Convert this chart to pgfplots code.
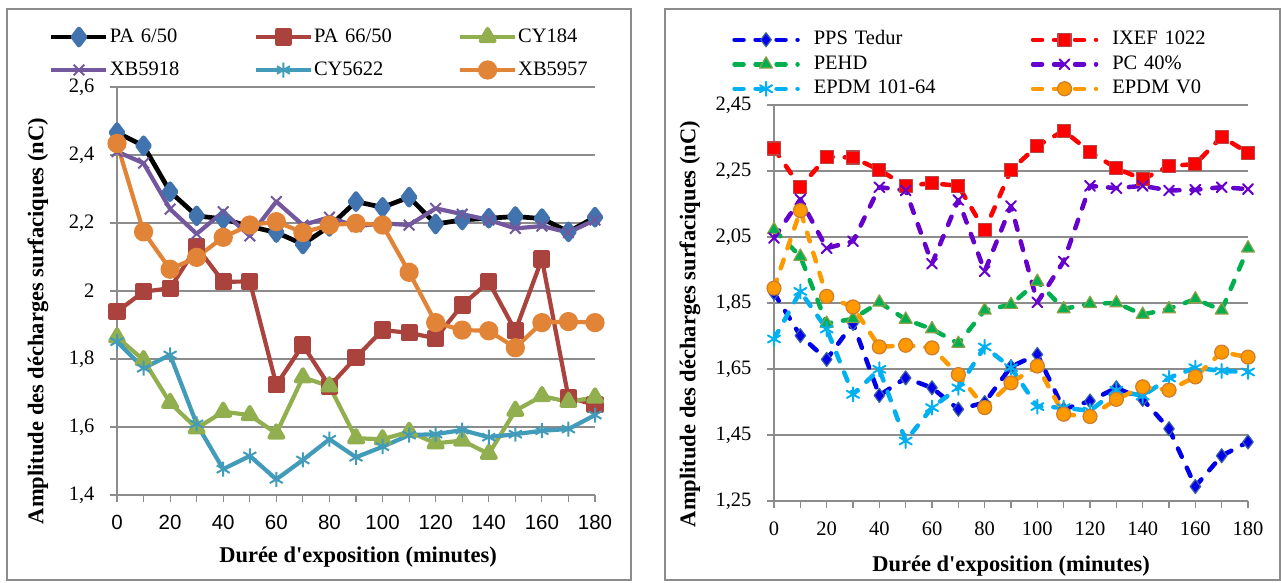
\documentclass[border=0pt]{standalone}
\usepackage{fontspec}
\setmainfont{Liberation Serif}[Ligatures=TeXOff]
\setsansfont{Liberation Sans}
\usepackage{pgfplots}
\usepackage{pgfplotstable}
\pgfplotsset{compat=1.18}

\definecolor{gridgray}{RGB}{140,140,140}
\definecolor{framegray}{RGB}{140,140,140}
\definecolor{diablue}{RGB}{65,115,175}
\definecolor{pared}{RGB}{170,66,62}
\definecolor{cygreen}{RGB}{145,175,78}
\definecolor{xbpurple}{RGB}{115,88,158}
\definecolor{cyteal}{RGB}{65,155,185}
\definecolor{xborange}{RGB}{226,132,55}

\definecolor{ppsblue}{RGB}{0,0,235}
\definecolor{ppsedge}{RGB}{60,100,160}
\definecolor{ixred}{RGB}{255,0,0}
\definecolor{ixedge}{RGB}{185,70,70}
\definecolor{pegreen}{RGB}{0,176,80}
\definecolor{peedge}{RGB}{140,160,70}
\definecolor{pcpurple}{RGB}{102,0,204}
\definecolor{epblue}{RGB}{0,176,240}
\definecolor{eporange}{RGB}{255,153,0}
\definecolor{epedge}{RGB}{205,125,45}

\newcommand\fs{\fontsize{20.5}{24}\selectfont}
\newcommand\fsb{\bfseries\fontsize{22.5}{26}\selectfont}

\pgfplotstableread{
x PA650 PA6650 CY184 XB5918 CY5622 XB5957
0 2.466 1.939 1.864 2.41 1.851 2.434
10 2.427 1.998 1.797 2.376 1.773 2.174
20 2.292 2.008 1.671 2.241 1.812 2.064
30 2.221 2.13 1.596 2.168 1.609 2.099
40 2.212 2.027 1.645 2.233 1.476 2.158
50 2.19 2.028 1.635 2.162 1.515 2.194
60 2.172 1.724 1.581 2.263 1.446 2.204
70 2.138 1.841 1.746 2.194 1.503 2.172
80 2.19 1.72 1.72 2.217 1.564 2.194
90 2.263 1.805 1.567 2.19 1.511 2.199
100 2.246 1.885 1.564 2.199 1.542 2.194
110 2.276 1.877 1.586 2.194 1.576 2.055
120 2.197 1.861 1.552 2.243 1.579 1.907
130 2.209 1.959 1.56 2.226 1.591 1.885
140 2.214 2.027 1.521 2.209 1.57 1.883
150 2.219 1.883 1.648 2.184 1.579 1.833
160 2.213 2.094 1.691 2.191 1.589 1.907
170 2.174 1.687 1.674 2.172 1.594 1.91
180 2.217 1.665 1.687 2.209 1.635 1.907
}\lefttable

\pgfplotstableread{
x PPS IXEF PEHD PC EPDMa EPDMb
0 1.88 2.318 2.072 2.047 1.741 1.895
10 1.751 2.201 1.991 2.164 1.885 2.13
20 1.679 2.293 1.788 2.016 1.771 1.87
30 1.788 2.291 1.802 2.037 1.573 1.838
40 1.57 2.253 1.852 2.201 1.649 1.717
50 1.623 2.205 1.8 2.191 1.432 1.722
60 1.593 2.213 1.771 1.969 1.533 1.714
70 1.528 2.205 1.727 2.162 1.593 1.633
80 1.548 2.07 1.828 1.946 1.717 1.533
90 1.657 2.253 1.845 2.144 1.654 1.608
100 1.694 2.326 1.915 1.852 1.536 1.659
110 1.528 2.372 1.832 1.976 1.533 1.513
120 1.553 2.308 1.848 2.205 1.523 1.506
130 1.593 2.258 1.85 2.198 1.586 1.558
140 1.558 2.225 1.815 2.205 1.568 1.596
150 1.469 2.265 1.832 2.191 1.623 1.586
160 1.294 2.271 1.862 2.193 1.654 1.626
170 1.387 2.354 1.828 2.201 1.644 1.701
180 1.429 2.305 2.016 2.195 1.641 1.686
}\righttable

\pgfplotsset{
  common/.style={
    scale only axis,
    xmin=0, xmax=180,
    axis x line*=bottom, axis y line*=left,
    axis line style={draw=gridgray, line width=1.3pt},
    ymajorgrids, grid style={draw=gridgray, line width=1.2pt},
    tick style={draw=gridgray, line width=1.2pt},
    tick align=outside,
    major tick length=7pt, minor tick length=7pt,
    xtick={0,20,40,60,80,100,120,140,160,180},
    minor xtick={10,30,50,70,90,110,130,150,170},
    clip=false,
    /pgf/number format/use comma,
    /pgf/number format/assume math mode=true,
    /pgf/number format/1000 sep={},
    ticklabel style={font=\fs},
    yticklabel style={xshift=-12pt},
    xticklabel style={yshift=-10pt},
    legend cell align=left,
  },
}

\begin{document}
\begin{tikzpicture}
\useasboundingbox (0,0) rectangle (1281pt,583pt);
\draw[framegray, line width=1.2pt] (7pt,3pt) rectangle (631pt,574pt);
\draw[framegray, line width=1.2pt] (665pt,3pt) rectangle (1280pt,574pt);

% ---------- left chart
\begin{axis}[common,
  at={(117pt,88pt)}, anchor=south west,
  width=478pt, height=408pt,
  ymin=1.4, ymax=2.6,
  ytick={1.4,1.6,1.8,2,2.2,2.4,2.6},
  xticklabel style={font=\sffamily\fs},
  legend columns=3,
  legend style={at={(-0.142,1.147)}, anchor=north west, draw=none, fill=none,
    inner sep=0pt, outer sep=0pt, font=\fs, column sep=0pt, row sep=13pt,
    nodes={inner sep=1pt, text height=14pt, text depth=4pt, text width=143pt}},
  legend image code/.code={\draw[mark repeat=2,mark phase=2,#1] plot coordinates {(0pt,0pt)(27.5pt,0pt)(55pt,0pt)};},
  every axis plot/.append style={line width=4.2pt, line join=round},
]
\addplot[black, line width=4.7pt, mark=diamond*, mark size=8pt, mark options={fill=diablue, draw=diablue}] table[x=x,y=PA650]{\lefttable};
\addlegendentry{PA 6/50}
\addplot[pared, mark=square*, mark size=6.5pt, mark options={fill=pared, draw=pared}] table[x=x,y=PA6650]{\lefttable};
\addlegendentry{PA 66/50}
\addplot[cygreen, mark=triangle*, mark size=8pt, mark options={fill=cygreen, draw=cygreen}] table[x=x,y=CY184]{\lefttable};
\addlegendentry{CY184}
\addplot[xbpurple, mark=x, mark size=7.5pt, mark options={line width=2pt}] table[x=x,y=XB5918]{\lefttable};
\addlegendentry{XB5918}
\addplot[cyteal, mark=asterisk, mark size=7.5pt, mark options={line width=2pt}] table[x=x,y=CY5622]{\lefttable};
\addlegendentry{CY5622}
\addplot[xborange, mark=*, mark size=7.5pt, mark options={fill=xborange, draw=xborange}] table[x=x,y=XB5957]{\lefttable};
\addlegendentry{XB5957}
\end{axis}

% ---------- right chart
\begin{axis}[common,
  at={(774pt,82pt)}, anchor=south west,
  width=474pt, height=396pt,
  ymin=1.25, ymax=2.45,
  ytick={1.25,1.45,1.65,1.85,2.05,2.25,2.45},
  yticklabel style={/pgf/number format/fixed, /pgf/number format/fixed zerofill, /pgf/number format/precision=2},
  legend columns=2,
  legend style={at={(-0.088,1.190)}, anchor=north west, draw=none, fill=none,
    inner sep=0pt, outer sep=0pt, font=\fs, column sep=13pt, row sep=4.5pt,
    nodes={inner sep=1pt, text height=14pt, text depth=4pt, text width=203pt}},
  legend image code/.code={\draw[mark repeat=2,mark phase=2,#1] plot coordinates {(0pt,0pt)(31.5pt,0pt)(63pt,0pt)};},
  every axis plot/.append style={line width=4.5pt, dash pattern=on 9pt off 12pt, line cap=round, line join=round},
]
\addplot[ppsblue, mark=diamond*, mark size=7pt, mark options={solid, fill=ppsblue, draw=ppsedge, line width=1.2pt}] table[x=x,y=PPS]{\righttable};
\addlegendentry{PPS Tedur}
\addplot[ixred, mark=square*, mark size=6.5pt, mark options={solid, fill=ixred, draw=ixedge, line width=1.2pt}] table[x=x,y=IXEF]{\righttable};
\addlegendentry{IXEF 1022}
\addplot[pegreen, mark=triangle*, mark size=7.5pt, mark options={solid, fill=pegreen, draw=peedge, line width=1.2pt}] table[x=x,y=PEHD]{\righttable};
\addlegendentry{PEHD}
\addplot[pcpurple, mark=x, mark size=7pt, mark options={solid, line width=2pt}] table[x=x,y=PC]{\righttable};
\addlegendentry{PC 40\%}
\addplot[epblue, mark=asterisk, mark size=7pt, mark options={solid, line width=2pt}] table[x=x,y=EPDMa]{\righttable};
\addlegendentry{EPDM 101-64}
\addplot[eporange, mark=*, mark size=7pt, mark options={solid, fill=eporange, draw=epedge, line width=1.2pt}] table[x=x,y=EPDMb]{\righttable};
\addlegendentry{EPDM V0}
\end{axis}

\node[font=\fsb, rotate=90] at (38pt,262pt) {Amplitude des décharges surfaciques (nC)};
\node[font=\fsb, rotate=90] at (690pt,259pt) {Amplitude des décharges surfaciques (nC)};
\node[font=\fsb] at (358pt,26pt) {Durée d'exposition (minutes)};
\node[font=\fsb] at (1011pt,17pt) {Durée d'exposition (minutes)};
\end{tikzpicture}
\end{document}
